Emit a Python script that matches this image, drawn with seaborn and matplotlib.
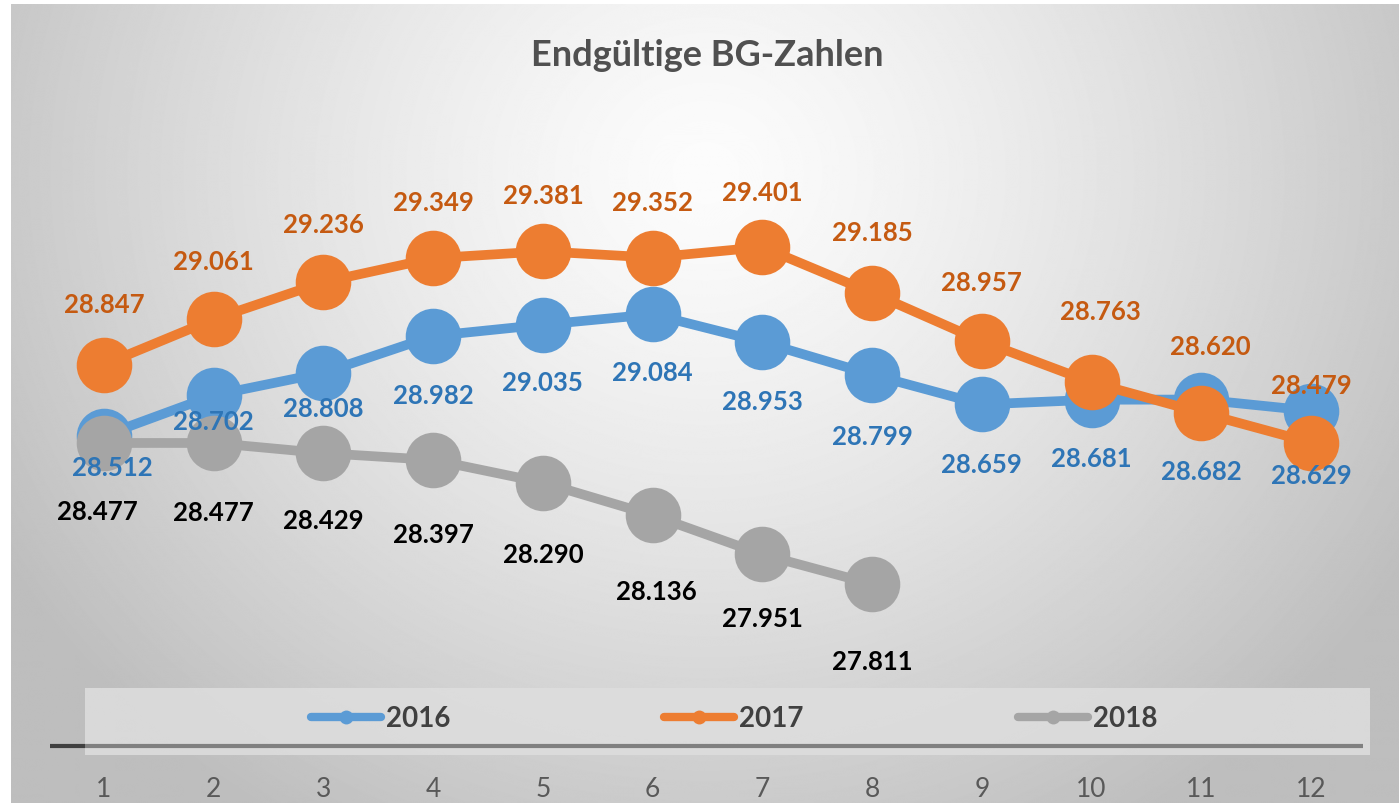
import numpy as np
import pandas as pd
import seaborn as sns
import matplotlib.pyplot as plt
from matplotlib.lines import Line2D
from matplotlib.patches import Rectangle

# values (German thousands separator in the labels)
months = list(range(1, 13))
years = ['2016', '2017', '2018']
bg_2016 = [28512, 28702, 28808, 28982, 29035, 29084, 28953, 28799, 28659, 28681, 28682, 28629]
bg_2017 = [28847, 29061, 29236, 29349, 29381, 29352, 29401, 29185, 28957, 28763, 28620, 28479]
bg_2018 = [28477, 28477, 28429, 28397, 28290, 28136, 27951, 27811]

line_colors = ['#5B9BD5', '#ED7D31', '#A5A5A5']
label_colors = ['#2E75B6', '#C55A11', '#000000']

# label offsets (pixels, from marker centre, positive = down)
off_2016 = [(8, 32), (0, 27), (0, 36), (0, 60), (0, 58), (0, 59), (0, 60), (0, 62), (0, 61), (0, 59), (0, 72), (0, 65)]
off_2017 = [(0, -60), (0, -57), (0, -57), (0, -55), (0, -55), (0, -55), (0, -54), (0, -60), (0, -58), (9, -70), (9, -66), (0, -57)]
off_2018 = [(-7, 69), (0, 70), (0, 68), (0, 75), (0, 72), (4, 77), (0, 65), (0, 78)]

series = [bg_2016, bg_2017, bg_2018]
offsets = [off_2016, off_2017, off_2018]

df = pd.concat([pd.DataFrame({'month': months[:len(s)], 'value': s, 'year': y})
                for s, y in zip(series, years)], ignore_index=True)

sns.set_theme(style='white')
plt.rcParams['font.family'] = ['Lato', 'DejaVu Sans']

W, H = 1399, 805
fig = plt.figure(figsize=(W / 100, H / 100), dpi=100)
fig.patch.set_facecolor('white')

# background with radial grey gradient
bg = fig.add_axes([0, 0, 1, 1], zorder=0)
xx, yy = np.meshgrid(np.arange(W), np.arange(H))
r = np.sqrt(((xx - 700) / 820.0) ** 2 + ((yy - 170) / 760.0) ** 2)
shade = (252 - 62 * np.clip(r, 0, 1) ** 1.3) / 255.0
bg.imshow(shade, cmap='gray', vmin=0, vmax=1, extent=(11, W, H - 2, 5), aspect='auto', interpolation='bilinear')
bg.set_xlim(0, W)
bg.set_ylim(H, 0)
bg.axis('off')

# legend strip and axis line
bg.add_patch(Rectangle((85, 688), 1285, 67, facecolor='#dedede', edgecolor='none', alpha=0.85))
bg.plot([50, 85], [746, 746], color='#404040', lw=3, solid_capstyle='butt')
bg.plot([85, 1363], [746, 746], color='#808080', lw=3, solid_capstyle='butt')

ax = fig.add_axes([0, 60 / H, 1, 745 / H], zorder=2)
ax.patch.set_alpha(0)
sns.lineplot(data=df, x='month', y='value', hue='year', palette=line_colors,
             marker='o', markersize=40, markeredgewidth=0, linewidth=7,
             legend=False, ax=ax)

for s, offs, c in zip(series, offsets, label_colors):
    for m, v, (dx, dy) in zip(months, s, offs):
        ax.annotate(f'{v:,}'.replace(',', '.'), (m, v), xytext=(dx, -dy),
                    textcoords='offset pixels', ha='center', va='center',
                    fontsize=18.5, fontweight='bold', color=c, zorder=5)

ax.set_xlim(0.0522, 12.802)
ax.set_ylim(27052, 30567)
ax.set_xticks(months)
ax.set_xticklabels([str(m) for m in months])
ax.set_yticks([])
ax.set_xlabel('')
ax.set_ylabel('')
ax.tick_params(axis='x', length=0, pad=23, labelsize=19, labelcolor='#595959')
for sp in ax.spines.values():
    sp.set_visible(False)

handles = [Line2D([0], [0], color=c, lw=6, marker='o', markersize=10, markeredgewidth=0)
           for c in line_colors]
leg = fig.legend(handles, years, loc='center', bbox_to_anchor=(734 / W, 1 - 719 / H),
                 ncol=3, frameon=False, handlelength=2.52, handletextpad=0.18,
                 columnspacing=7.7, prop={'weight': 'bold', 'size': 20})
for t in leg.get_texts():
    t.set_color('#404040')

fig.text(707 / W, 1 - 55 / H, 'Endgültige BG-Zahlen', ha='center', va='center',
         fontsize=26, fontweight='bold', color='#505050')

fig.savefig('out.png', dpi=100)
